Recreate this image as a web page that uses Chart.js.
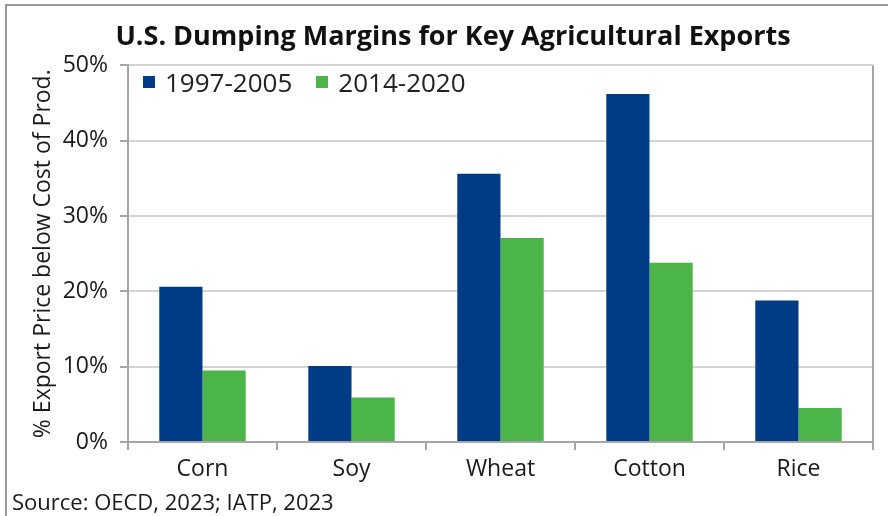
<!DOCTYPE html>
<html>
<head>
<meta charset="utf-8">
<script src="https://cdn.jsdelivr.net/npm/chart.js@4.4.0/dist/chart.umd.min.js"></script>
<style>
  html, body { margin: 0; padding: 0; background: #fff; }
  #wrap { position: relative; width: 888px; height: 516px; overflow: hidden; }
  #frame { position: absolute; left: 5px; top: 4px; width: 900px; height: 600px;
           border-top: 2px solid #9a9a9a; border-left: 2px solid #9a9a9a; }
  #chart { position: absolute; left: 0; top: 0; }
  #source { position: absolute; left: 12px; top: 486px; font: 22px 'Open Sans', sans-serif; color: #1a1a1a; }
  #legend { position: absolute; left: 143px; top: 66px; height: 32px; display: flex; align-items: center;
            font: 26px 'Open Sans', sans-serif; color: #222; }
  #legend .item { display: flex; align-items: center; margin-right: 24px; }
  #legend .box { width: 12px; height: 12px; margin-right: 10px; }
</style>
</head>
<body>
<div id="wrap">
  <div id="frame"></div>
  <canvas id="chart" width="888" height="516"></canvas>
  <div id="legend"></div>
  <div id="source">Source: OECD, 2023; IATP, 2023</div>
</div>
<script>
// ── DATA ──────────────────────────────────────────────
const categories = ['Corn', 'Soy', 'Wheat', 'Cotton', 'Rice'];
const seriesNames = ['1997-2005', '2014-2020'];
const early  = [20.6, 10.1, 35.6, 46.2, 18.8];   // 1997-2005
const recent = [9.5, 5.9, 27.1, 23.8, 4.5];      // 2014-2020
const yTicks = [0, 10, 20, 30, 40, 50];

const BLUE  = '#003c85';
const GREEN = '#4bb54a';
const FONT  = "'Open Sans', sans-serif";

// right-hand frame line of the plot area
const rightBorder = {
  id: 'rightBorder',
  afterDraw(chart) {
    const { ctx, chartArea } = chart;
    ctx.save();
    ctx.strokeStyle = '#a6a6a6';
    ctx.lineWidth = 2;
    ctx.beginPath();
    ctx.moveTo(chartArea.right, chartArea.top);
    ctx.lineTo(chartArea.right, chartArea.bottom);
    ctx.stroke();
    ctx.restore();
  }
};

const chart = new Chart(document.getElementById('chart'), {
  type: 'bar',
  data: {
    labels: categories,
    datasets: [
      { label: seriesNames[0], data: early,  backgroundColor: BLUE },
      { label: seriesNames[1], data: recent, backgroundColor: GREEN }
    ]
  },
  options: {
    responsive: false,
    animation: false,
    layout: { padding: { left: 33, right: 15, top: 0, bottom: 28 } },
    datasets: { bar: { categoryPercentage: 0.58, barPercentage: 1.0 } },
    plugins: {
      title: {
        display: true,
        text: 'U.S. Dumping Margins for Key Agricultural Exports',
        color: '#111',
        font: { family: FONT, size: 27, weight: 'bold' },
        padding: { top: 21, bottom: 12 }
      },
      legend: { display: false },
      tooltip: { enabled: false }
    },
    scales: {
      x: {
        grid: { drawOnChartArea: false, drawTicks: true, tickLength: 8, color: '#a6a6a6', lineWidth: 2 },
        border: { color: '#a6a6a6', width: 2 },
        ticks: { color: '#1a1a1a', padding: 6, font: { family: FONT, size: 23 } },
        afterFit(scale) { scale.height = 46; }
      },
      y: {
        min: 0, max: 50,
        afterBuildTicks(scale) { scale.ticks = yTicks.map(v => ({ value: v })); },
        grid: { color: '#d4d4d4', lineWidth: 2, tickLength: 8, tickColor: '#a6a6a6' },
        border: { color: '#a6a6a6', width: 2 },
        ticks: {
          color: '#1a1a1a', padding: 12,
          font: { family: FONT, size: 23 },
          callback: v => v + '%'
        },
        title: {
          display: true,
          text: '% Export Price below Cost of Prod.',
          color: '#1a1a1a',
          font: { family: FONT, size: 23 },
          padding: { top: -3, bottom: 0 }
        },
        afterFit(scale) { scale.width = 95; }
      }
    }
  },
  plugins: [rightBorder]
});

// HTML legend built from the chart's datasets
const legendEl = document.getElementById('legend');
chart.data.datasets.forEach(ds => {
  const item = document.createElement('div');
  item.className = 'item';
  item.innerHTML = '<span class="box" style="background:' + ds.backgroundColor + '"></span>' + ds.label;
  legendEl.appendChild(item);
});
</script>
</body>
</html>
